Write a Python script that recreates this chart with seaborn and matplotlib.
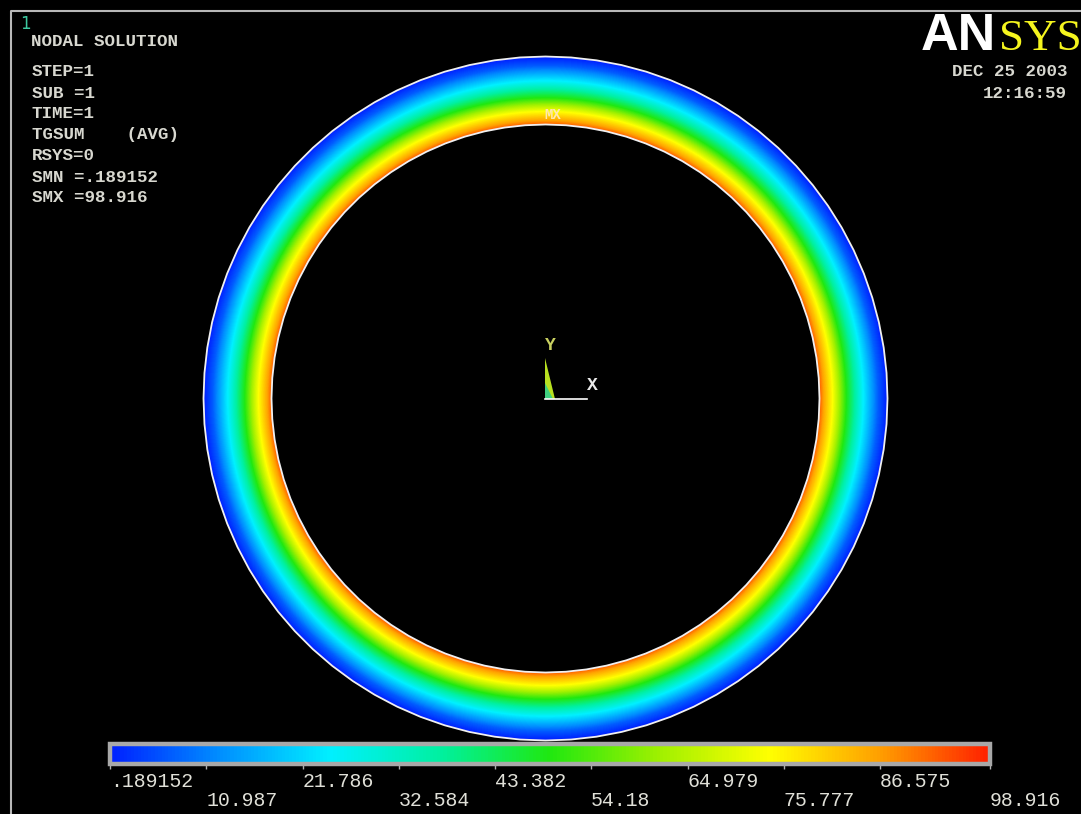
import numpy as np
import seaborn as sns
import matplotlib.pyplot as plt
from matplotlib.colors import LinearSegmentedColormap
from matplotlib.patches import RegularPolygon, Polygon

# colour bar values
tick_values = [0.189152, 10.987, 21.786, 32.584, 43.382, 54.18, 64.979, 75.777, 86.575, 98.916]
tick_labels = ['.189152', '10.987', '21.786', '32.584', '43.382', '54.18', '64.979', '75.777', '86.575', '98.916']

# temperature read across the ring wall, 0 = inner edge, 1 = outer edge
wall_position = [0.0, 0.07, 0.20, 0.40, 0.65, 0.87, 1.0]
wall_temp = [94.0, 86.0, 74.0, 49.5, 25.0, 7.0, 0.19]

info_lines = ['STEP=1', 'SUB =1', 'TIME=1', 'TGSUM    (AVG)', 'RSYS=0', 'SMN =.189152', 'SMX =98.916']
info_y = [72, 93, 114, 135, 156, 177, 198]

ansys_colors = ['#0020ff', '#0090ff', '#00f0ff', '#00f0a0', '#20e810',
                '#a0f000', '#ffff00', '#ffa000', '#ff2000']
cmap = LinearSegmentedColormap.from_list('ansys', ansys_colors)

W, H = 1081, 814
cx, cy = 545.5, 398.5
r_in, r_out = 273.5, 341.5

fig = plt.figure(figsize=(W / 100, H / 100), dpi=100, facecolor='black')
ax = fig.add_axes([0, 0, 1, 1], facecolor='black')
cax = fig.add_axes([110 / W, 1 - 764 / H, 880 / W, 20 / H], facecolor='black')

# one heatmap cell per pixel, so the main axes run in pixel units
xx, yy = np.meshgrid(np.arange(W) + 0.5, np.arange(H) + 0.5)
rr = np.hypot(xx - cx, yy - cy)
field = np.interp((rr - r_in) / (r_out - r_in), wall_position, wall_temp)
outside = (rr < r_in) | (rr > r_out)

sns.heatmap(field, mask=outside, cmap=cmap, vmin=tick_values[0], vmax=tick_values[-1],
            ax=ax, cbar_ax=cax, xticklabels=False, yticklabels=False,
            cbar_kws={'orientation': 'horizontal', 'ticks': tick_values})
ax.set_facecolor('black')

# colour bar
cb = ax.collections[0].colorbar
cb.outline.set_linewidth(3.2)
cb.outline.set_edgecolor('#a8a8a8')
cax.set_xticks(tick_values)
cax.set_xticklabels([lab if i % 2 == 0 else '\n' + lab for i, lab in enumerate(tick_labels)],
                    ha='left', family='Liberation Mono', fontsize=14.3, color='#e0e0d8',
                    linespacing=1.0)
cax.tick_params(axis='x', length=3.5, width=1, color='#b0b0b0', pad=2)

# ring outlines, the mesh shows as short straight edges
for r in (r_in, r_out):
    ax.add_patch(RegularPolygon((cx, cy), numVertices=84, radius=r + 0.5, fill=False,
                                edgecolor='#f0f0f0', linewidth=1.3))

# window frame
ax.plot([10.5, 10.5, W], [H, 10.5, 10.5], color='#b8b8b8', lw=1.5, clip_on=False)

# annotations
mono = dict(family='Liberation Mono', weight='bold', color='#d8d8d0', fontsize=12.6, va='center')
ax.text(31, 41, 'NODAL SOLUTION', **mono)
for line, y in zip(info_lines, info_y):
    ax.text(32, y, line, **mono)
ax.text(1067, 72, 'DEC 25 2003', ha='right', **mono)
ax.text(1067, 93, '12:16:59', ha='right', **mono)
ax.text(20, 24, '1', color='#3cc8a0', fontsize=12, va='center')
ax.text(553, 115, 'MX', color='#ffe8b0', family='Liberation Mono', weight='bold', fontsize=10,
        ha='center', va='center')

# logo
ax.text(921, 50, 'AN', color='white', family='Liberation Sans', weight='bold', fontsize=37.5, va='baseline')
ax.text(999, 50, 'SYS', color='#f5f51e', family='Liberation Serif', fontsize=32.5, va='baseline')

# axis triad
ax.add_patch(Polygon([(545, 358), (545, 399), (555, 399)], closed=True, facecolor='#b8e020', edgecolor='none'))
ax.add_patch(Polygon([(545, 383), (545, 399), (553, 399)], closed=True, facecolor='#40d080', edgecolor='none'))
ax.plot([545, 587], [398.5, 398.5], color='white', lw=1.2)
ax.text(550, 346, 'Y', color='#c8d060', family='Liberation Mono', weight='bold', fontsize=13, ha='center', va='center')
ax.text(592, 386, 'X', color='#e8e8e8', family='Liberation Mono', weight='bold', fontsize=13, ha='center', va='center')

fig.savefig('out.png', dpi=100, facecolor='black')
